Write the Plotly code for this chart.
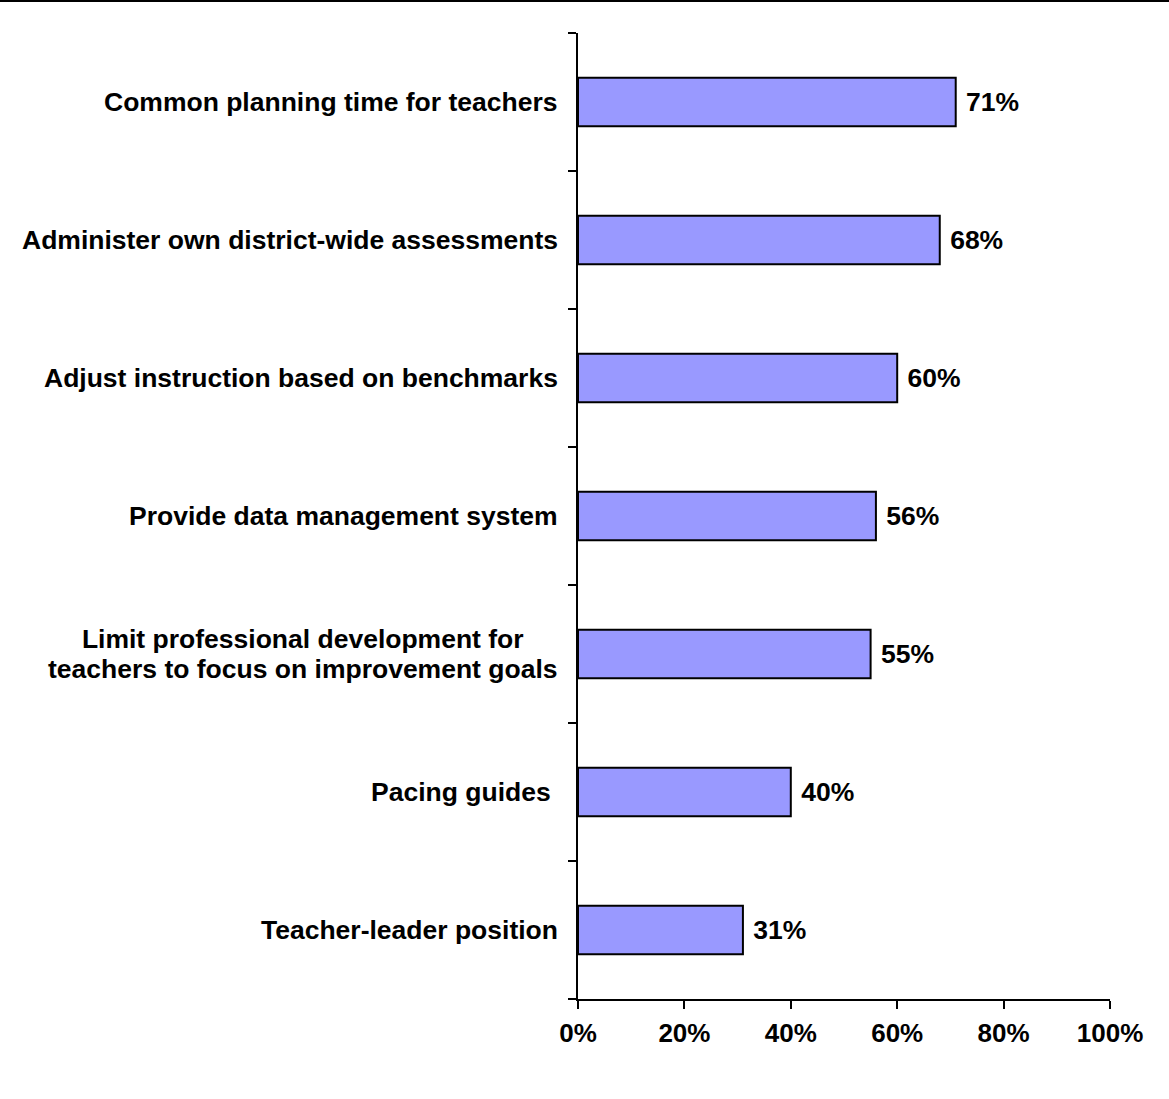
import plotly.graph_objects as go

# Survey results: share of districts using each strategy
categories = [
    "Common planning time for teachers",
    "Administer own district-wide assessments",
    "Adjust instruction based on benchmarks",
    "Provide data management system",
    "Limit professional development for<br>teachers to focus on improvement goals",
    "Pacing guides ",
    "Teacher-leader position",
]
values = [71, 68, 60, 56, 55, 40, 31]
x_ticks = [0, 20, 40, 60, 80, 100]

FONT = "Liberation Sans, Arial, sans-serif"
FS_LABEL = 26.5
FS_TICK = 26
W, H = 1169, 1099
ML, MR, MT, MB = 578, 59, 33, 100
PW = W - ML - MR
PH = H - MT - MB
LINE_GAP = 30  # px between lines of a wrapped category label

fig = go.Figure(
    go.Bar(
        x=values,
        y=list(range(len(categories))),
        orientation="h",
        marker=dict(color="#9999FF", line=dict(color="black", width=2)),
        text=[f" <b>{v}%</b>" for v in values],
        textposition="outside",
        textfont=dict(family=FONT, size=FS_LABEL, color="black"),
        cliponaxis=False,
        width=0.35,
        hoverinfo="skip",
    )
)

# Category labels: right-aligned beside the axis, wrapped lines centred on each other.
# The annotation font size sets the line pitch; the span sets the glyph size.
for i, label in enumerate(categories):
    lines = label.split("<br>")
    body = "<br>".join(
        f'<span style="font-size:{FS_LABEL}px"><b>{s}</b></span>' for s in lines
    )
    fig.add_annotation(
        x=0, xref="paper", xanchor="right", xshift=-18,
        y=i, yref="y", yanchor="middle",
        text=body, showarrow=False, align="center",
        font=dict(family=FONT, size=LINE_GAP / 1.3, color="black"),
    )

# Rule across the top of the page
fig.add_shape(
    type="line", xref="paper", yref="paper",
    x0=-ML / PW, x1=1 + MR / PW,
    y0=1 + (MT - 1) / PH, y1=1 + (MT - 1) / PH,
    line=dict(color="black", width=2),
)

fig.update_layout(
    width=W, height=H,
    margin=dict(l=ML, r=MR, t=MT, b=MB, pad=0),
    paper_bgcolor="white", plot_bgcolor="white",
    showlegend=False,
    font=dict(family=FONT, size=FS_TICK, color="black"),
    xaxis=dict(
        range=[0, 100], tickvals=x_ticks,
        ticktext=[f"<b>{t}%</b>" for t in x_ticks],
        showgrid=False, zeroline=False,
        showline=True, linecolor="black", linewidth=2,
        ticks="outside", ticklen=8, tickwidth=2, tickcolor="black",
        tickfont=dict(family=FONT, size=FS_TICK, color="black"),
        ticklabelstandoff=2,
    ),
    yaxis=dict(
        range=[len(categories) - 0.5, -0.5],
        tickvals=[i + 0.5 for i in range(-1, len(categories))],
        showticklabels=False,
        showgrid=False, zeroline=False,
        showline=True, linecolor="black", linewidth=2,
        ticks="outside", ticklen=8, tickwidth=2, tickcolor="black",
    ),
)

fig.write_html("out.html")
